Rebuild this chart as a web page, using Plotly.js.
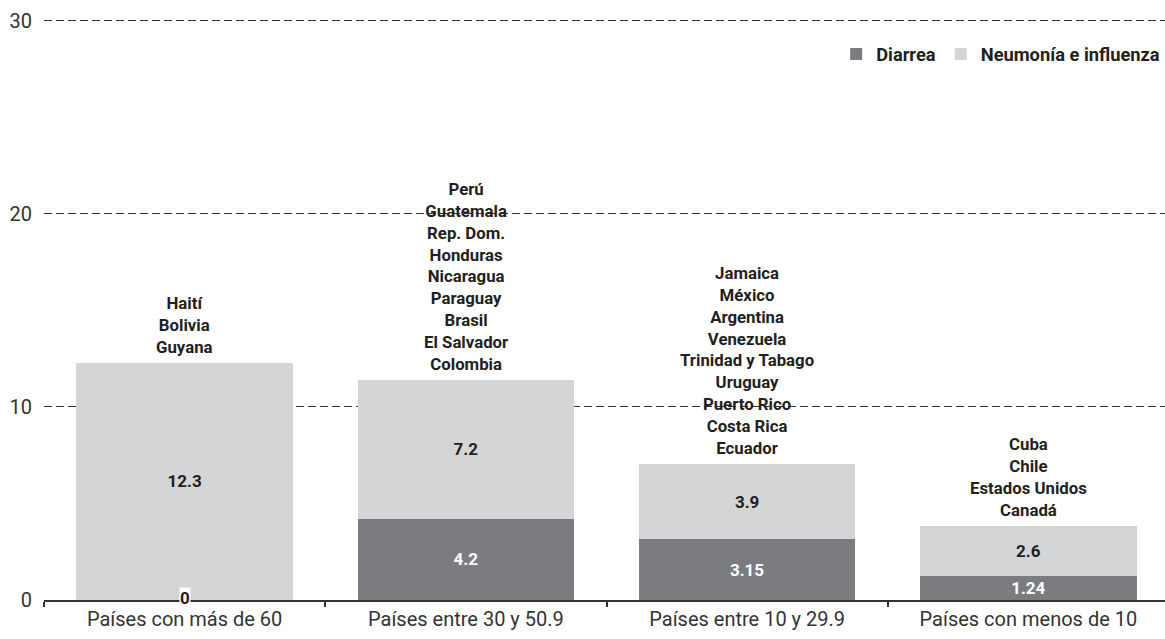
<!DOCTYPE html>
<html>
<head>
<meta charset="utf-8">
<script src="https://cdn.plot.ly/plotly-3.0.1.min.js"></script>
<style>html,body{margin:0;padding:0;background:#fff;overflow:hidden}#chart{width:1169px;height:639px}</style>
</head>
<body>
<div id="chart"></div>
<script>
const categories = ["Países con más de 60", "Países entre 30 y 50.9", "Países entre 10 y 29.9", "Países con menos de 10"];
const diarrea = [0, 4.2, 3.15, 1.24];
const neumonia = [12.3, 7.2, 3.9, 2.6];
const seriesNames = ["Diarrea", "Neumonía e influenza"];
const countries = [
  ["Haití", "Bolivia", "Guyana"],
  ["Perú", "Guatemala", "Rep. Dom.", "Honduras", "Nicaragua", "Paraguay", "Brasil", "El Salvador", "Colombia"],
  ["Jamaica", "México", "Argentina", "Venezuela", "Trinidad y Tabago", "Uruguay", "Puerto Rico", "Costa Rica", "Ecuador"],
  ["Cuba", "Chile", "Estados Unidos", "Canadá"]
];
const yTicks = [0, 10, 20, 30];

const FONT = "Roboto, 'DejaVu Sans', sans-serif";
const DARK = "#7b7c80", LIGHT = "#d4d5d7", TXT = "#231f20";

const traces = [
  {
    type: "bar", name: seriesNames[0], x: categories, y: diarrea,
    marker: {color: DARK, line: {width: 0}},
    text: diarrea.map(String),
    textposition: diarrea.map(v => v === 0 ? "none" : "inside"),
    insidetextanchor: "middle", constraintext: "none", textangle: 0,
    insidetextfont: {family: FONT, size: 17, color: "#ffffff", weight: 700},
    hoverinfo: "skip"
  },
  {
    type: "bar", name: seriesNames[1], x: categories, y: neumonia,
    marker: {color: LIGHT, line: {width: 0}},
    text: neumonia.map(String),
    textposition: "inside",
    insidetextanchor: "middle", constraintext: "none", textangle: 0,
    insidetextfont: {family: FONT, size: 17, color: TXT, weight: 700},
    hoverinfo: "skip"
  }
];

const annotations = categories.map((c, i) => ({
  x: c, y: diarrea[i] + neumonia[i], xref: "x", yref: "y",
  text: countries[i].join("<br>"), showarrow: false,
  yanchor: "bottom", xanchor: "center", yshift: 4,
  font: {family: FONT, size: 16.8, color: TXT, weight: 700}
}));
diarrea.forEach((v, i) => {
  if (v === 0) annotations.push({
    x: categories[i], y: v, xref: "x", yref: "y", text: String(v), showarrow: false,
    bgcolor: "#ffffff", borderpad: 0, yanchor: "middle", yshift: 2,
    font: {family: FONT, size: 17, color: TXT, weight: 700}
  });
});

const layout = {
  width: 1169, height: 639,
  margin: {l: 44, r: 0, t: 18, b: 39},
  paper_bgcolor: "#fff", plot_bgcolor: "#fff",
  barmode: "stack", bargap: 0.23,
  font: {family: FONT, color: TXT},
  showlegend: true,
  legend: {
    orientation: "h", x: 0.9966, xanchor: "right", y: 0.938, yanchor: "middle",
    font: {family: FONT, size: 18.3, color: TXT, weight: 700},
    traceorder: "normal", bgcolor: "rgba(0,0,0,0)"
  },
  xaxis: {
    type: "category", tickson: "boundaries", ticks: "outside", ticklen: 5, tickwidth: 2,
    tickcolor: "#333", showline: true, linecolor: "#333", linewidth: 1.5,
    showgrid: false, tickfont: {family: FONT, size: 20, color: "#333"},
    fixedrange: true
  },
  yaxis: {
    range: [0, 30.15], tickvals: yTicks, ticktext: yTicks.map(String),
    showgrid: true, gridcolor: "#333", gridwidth: 1, griddash: "8px,4px",
    zeroline: false, showline: false, ticks: "",
    ticklabelstandoff: 11,
    tickfont: {family: FONT, size: 20, color: "#333"}, fixedrange: true
  },
  annotations: annotations
};

Plotly.newPlot("chart", traces, layout, {staticPlot: true, displayModeBar: false});
</script>
</body>
</html>
